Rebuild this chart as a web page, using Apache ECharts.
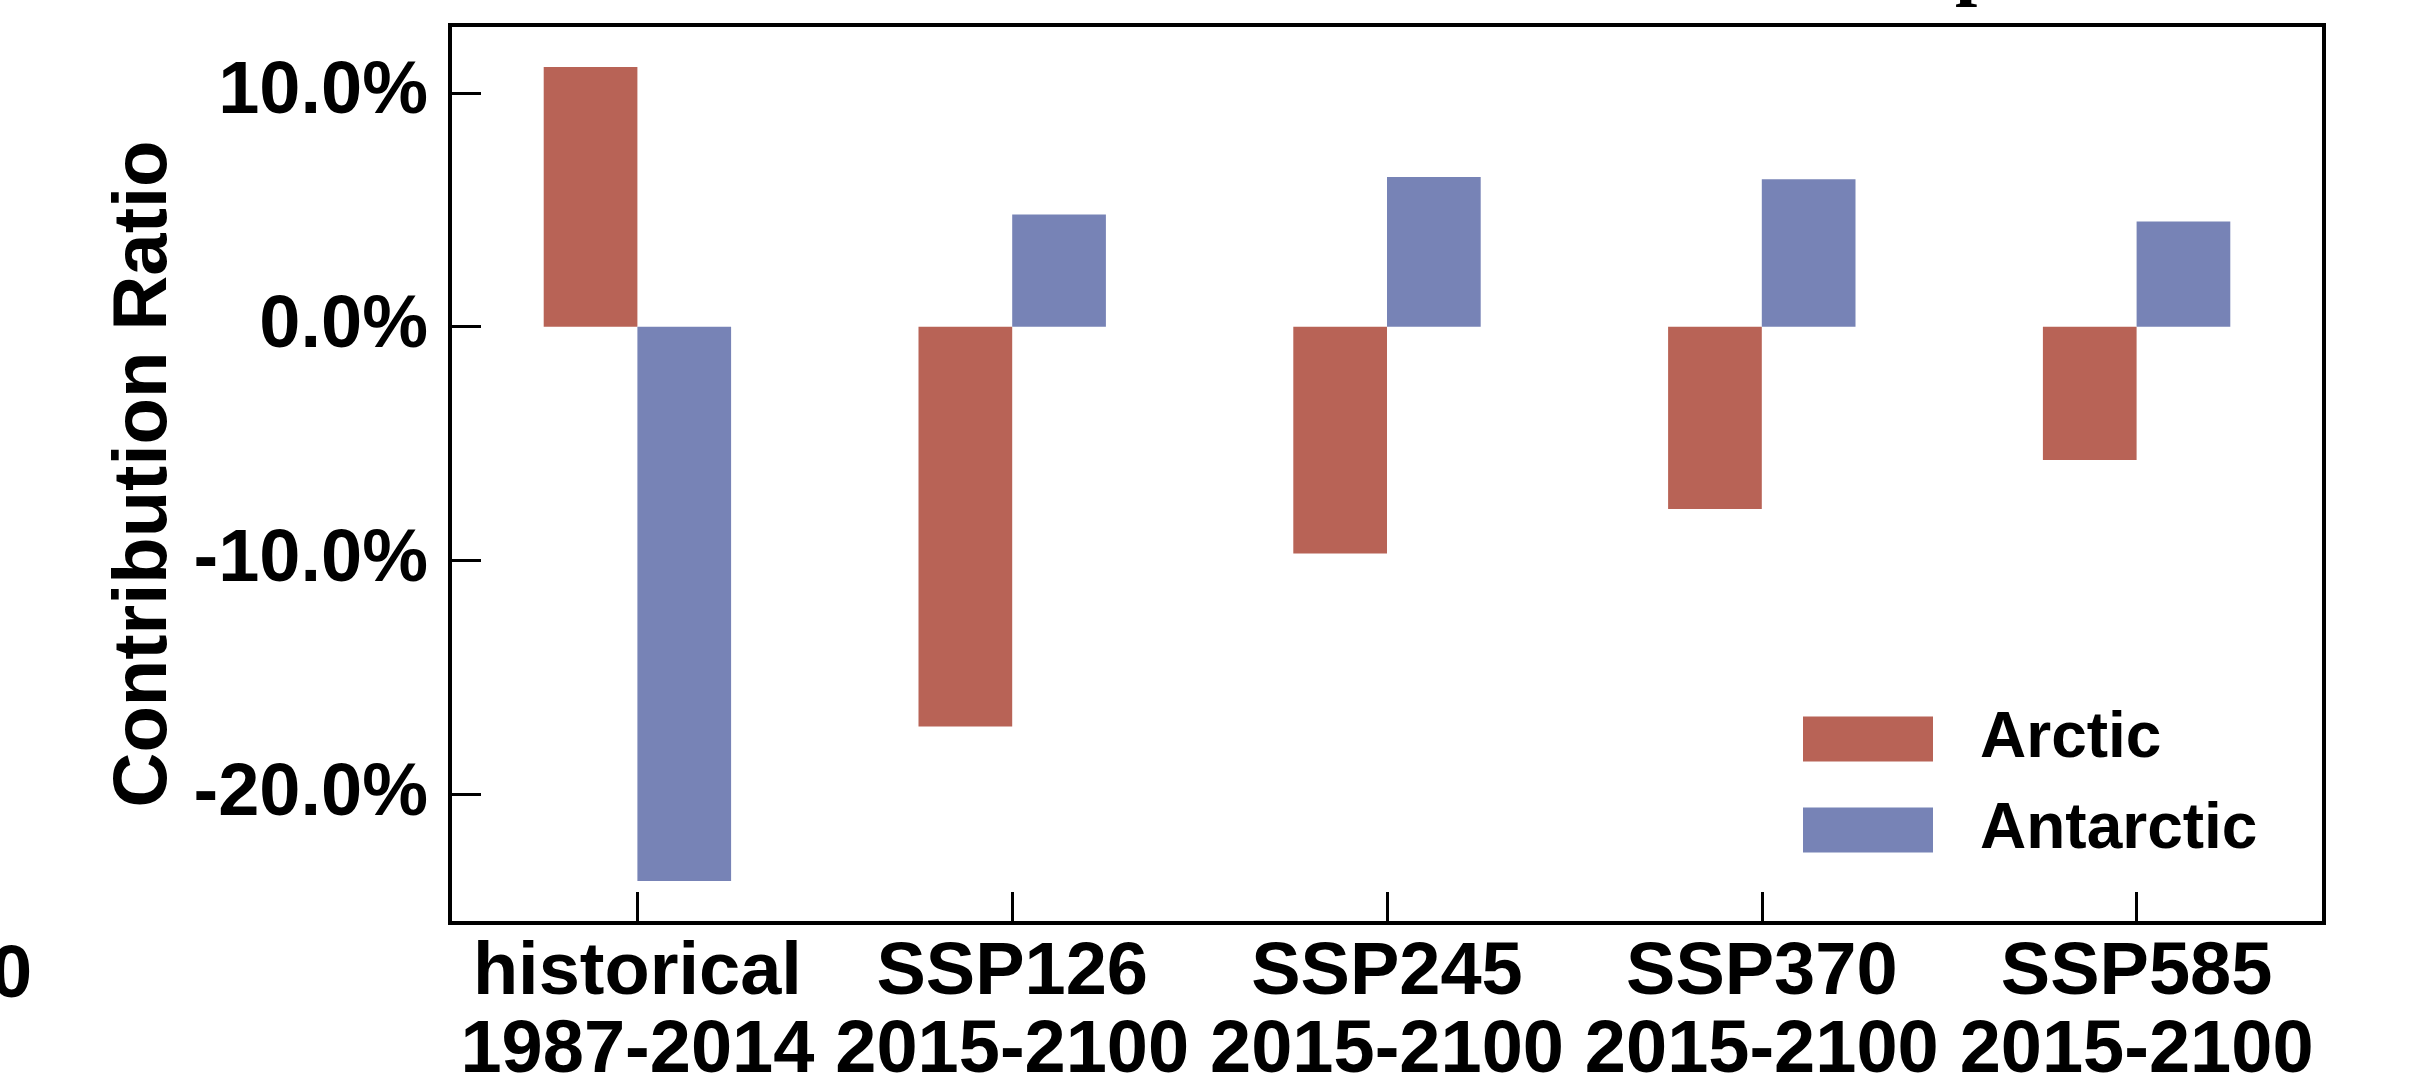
<!DOCTYPE html>
<html>
<head>
<meta charset="utf-8">
<script src="https://cdn.jsdelivr.net/npm/echarts@6/dist/echarts.min.js"></script>
<style>
  html, body { margin: 0; padding: 0; background: #fff; }
  #chart { width: 2435px; height: 1084px; }
</style>
</head>
<body>
<div id="chart"></div>
<script>
// scenario names and periods (two-line category labels)
const scenarios = ['historical', 'SSP126', 'SSP245', 'SSP370', 'SSP585']
const periods = ['1987-2014', '2015-2100', '2015-2100', '2015-2100', '2015-2100']

// contribution ratio, percent
const arctic = [11.1, -17.1, -9.7, -7.8, -5.7]
const antarctic = [-23.7, 4.8, 6.4, 6.3, 4.5]

const yTicks = [-20, -10, 0, 10]

const categories = scenarios.map((s, i) => s + '\n' + periods[i])
const font = 'Liberation Sans, Arial, sans-serif'

const chart = echarts.init(document.getElementById('chart'), null, { renderer: 'canvas' })

chart.setOption({
  animation: false,
  backgroundColor: '#fff',
  textStyle: { fontFamily: font },
  grid: {
    left: 450, right: 111, top: 25, bottom: 161,
    containLabel: false, outerBoundsMode: 'none',
    show: true, borderColor: '#000', borderWidth: 4, backgroundColor: 'transparent',
  },
  legend: {
    orient: 'vertical',
    left: 1798, top: 702,
    icon: 'rect',
    itemWidth: 130, itemHeight: 45, itemGap: 27,
    textStyle: { fontSize: 64, fontWeight: 'bold', color: '#000', fontFamily: font, padding: [0, 0, 0, 42] },
    data: ['Arctic', 'Antarctic'],
  },
  xAxis: {
    type: 'category',
    data: categories,
    axisLine: { show: true, onZero: false, lineStyle: { color: '#000', width: 4 } },
    axisTick: { show: true, inside: true, alignWithLabel: true, length: 31, lineStyle: { color: '#000', width: 3 } },
    axisLabel: {
      interval: 0, color: '#000', fontSize: 74, fontWeight: 'bold',
      lineHeight: 78, margin: 12, fontFamily: font,
    },
    splitLine: { show: false },
  },
  yAxis: {
    type: 'value',
    min: -25.5, max: 12.9,
    name: 'Contribution Ratio',
    nameLocation: 'middle',
    nameGap: 258,
    nameTextStyle: { fontSize: 76, fontWeight: 'bold', color: '#000', fontFamily: font },
    axisLine: { show: true, lineStyle: { color: '#000', width: 4 } },
    axisTick: { show: true, inside: true, length: 31, customValues: yTicks, lineStyle: { color: '#000', width: 3 } },
    axisLabel: {
      customValues: yTicks,
      formatter: v => v.toFixed(1) + '%',
      color: '#000', fontSize: 74, fontWeight: 'bold', margin: 22, fontFamily: font,
    },
    splitLine: { show: false },
  },
  series: [
    {
      name: 'Arctic', type: 'bar', data: arctic,
      barGap: '0%', barCategoryGap: '50%',
      itemStyle: { color: '#B86356' },
    },
    {
      name: 'Antarctic', type: 'bar', data: antarctic,
      barGap: '0%', barCategoryGap: '50%',
      itemStyle: { color: '#7783B6' },
    },
  ],
  graphic: [
    // cut-off pieces of neighbouring panels
    { type: 'text', left: -9, top: 940, style: { text: '0', fontSize: 74, fontWeight: 'bold', fill: '#000', fontFamily: font } },
    { type: 'text', x: 1955, y: 9, style: { text: 'p', fontSize: 80, fontWeight: 'bold', fill: '#000', fontFamily: 'Liberation Serif, serif', verticalAlign: 'bottom' } },
  ],
})
</script>
</body>
</html>
